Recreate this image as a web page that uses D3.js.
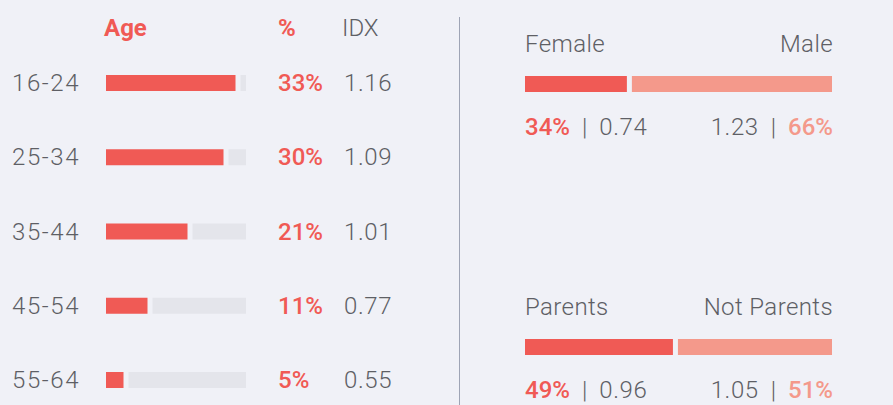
<!DOCTYPE html>
<html lang="en">
<head>
<meta charset="UTF-8">
<title>Audience</title>
<script src="https://d3js.org/d3.v7.min.js"></script>
<style>
	body {margin: 0; background: #f0f1f7;}
	text {font-family: "Roboto", sans-serif;}
</style>
</head>
<body>
<div id="myDiv"></div>
<script>
// data
const ages = ["16-24", "25-34", "35-44", "45-54", "55-64"];
const agePct = [33, 30, 21, 11, 5];
const ageIdx = [1.16, 1.09, 1.01, 0.77, 0.55];

const genderLabels = ["Female", "Male"];
const genderPct = [34, 66];
const genderIdx = [0.74, 1.23];

const parentLabels = ["Parents", "Not Parents"];
const parentPct = [49, 51];
const parentIdx = [0.96, 1.05];

const red = "#f05a55", salmon = "#f4998b", grey = "#5e5f65", track = "#e4e5eb";
const fs = 24;

let svg = d3.select("#myDiv").append("svg")
	.attr("width", 893)
	.attr("height", 405);

svg.append("rect").attr("width", 893).attr("height", 405).attr("fill", "#f0f1f7");

//---- Age block
let y = d3.scalePoint().domain(ages).range([91, 388]);   // text baselines
let x = d3.scaleLinear().domain([0, 35]).range([106, 246]);
const barH = 16, gap = 2.5;

let ageData = ages.map((a, i) => ({age: a, pct: agePct[i], idx: ageIdx[i]}));

// headers
svg.append("text").attr("x", 104).attr("y", 36).attr("font-size", fs).attr("font-weight", 700)
	.attr("fill", red).text("Age");
svg.append("text").attr("x", 278).attr("y", 36).attr("font-size", fs).attr("font-weight", 700)
	.attr("fill", red).text("%");
svg.append("text").attr("x", 342).attr("y", 36).attr("font-size", fs).attr("font-weight", 300)
	.attr("fill", grey).text("IDX");

let rows = svg.selectAll("g.row").data(ageData).enter().append("g").attr("class", "row");

rows.append("text")
	.attr("x", 12).attr("y", d => y(d.age))
	.attr("font-size", fs).attr("font-weight", 300).attr("fill", grey)
	.attr("letter-spacing", 1.6)
	.text(d => d.age);

// background track
rows.append("rect")
	.attr("x", d => x(d.pct) + gap)
	.attr("y", d => y(d.age) - barH)
	.attr("width", d => x.range()[1] - x(d.pct) - gap)
	.attr("height", barH)
	.attr("fill", track);

// value bar
rows.append("rect")
	.attr("x", x(0))
	.attr("y", d => y(d.age) - barH)
	.attr("width", d => x(d.pct) - gap - x(0))
	.attr("height", barH)
	.attr("fill", red);

rows.append("text")
	.attr("x", 278).attr("y", d => y(d.age))
	.attr("font-size", fs).attr("font-weight", 500).attr("fill", red)
	.text(d => d.pct + "%");

rows.append("text")
	.attr("x", 344).attr("y", d => y(d.age))
	.attr("font-size", fs).attr("font-weight", 300).attr("fill", grey)
	.attr("letter-spacing", 0.6)
	.text(d => d.idx.toFixed(2));

//---- divider
svg.append("line")
	.attr("x1", 459.5).attr("x2", 459.5)
	.attr("y1", 17).attr("y2", 405)
	.attr("stroke", "#9ea4b5").attr("stroke-width", 1);

//---- split bars
let sx = d3.scaleLinear().domain([0, 100]).range([525, 832]);

function splitBlock(top, labels, pct, idx) {
	let g = svg.append("g");
	// labels
	g.append("text").attr("x", sx(0)).attr("y", top)
		.attr("font-size", fs).attr("font-weight", 300).attr("fill", grey)
		.attr("letter-spacing", 0.4).text(labels[0]);
	g.append("text").attr("x", sx(100) + 1).attr("y", top).attr("text-anchor", "end")
		.attr("font-size", fs).attr("font-weight", 300).attr("fill", grey)
		.attr("letter-spacing", 0.4).text(labels[1]);

	// bars
	g.append("rect")
		.attr("x", sx(0)).attr("y", top + 24)
		.attr("width", sx(pct[0]) - gap - sx(0)).attr("height", barH)
		.attr("fill", red);
	g.append("rect")
		.attr("x", sx(pct[0]) + gap).attr("y", top + 24)
		.attr("width", sx(100) - sx(pct[0]) - gap).attr("height", barH)
		.attr("fill", salmon);

	// values
	let l = g.append("text").attr("x", sx(0)).attr("y", top + 83)
		.attr("font-size", fs).attr("font-weight", 300).attr("fill", grey);
	l.append("tspan").attr("fill", red).attr("font-weight", 500).text(pct[0] + "%");
	l.append("tspan").attr("dx", 12).text("|");
	l.append("tspan").attr("dx", 12).attr("letter-spacing", 0.6).text(idx[0].toFixed(2));

	let r = g.append("text").attr("x", sx(100) + 1).attr("y", top + 83).attr("text-anchor", "end")
		.attr("font-size", fs).attr("font-weight", 300).attr("fill", grey);
	r.append("tspan").attr("letter-spacing", 0.6).text(idx[1].toFixed(2));
	r.append("tspan").attr("dx", 12).text("|");
	r.append("tspan").attr("dx", 12).attr("fill", salmon).attr("font-weight", 500).text(pct[1] + "%");
}

splitBlock(52, genderLabels, genderPct, genderIdx);
splitBlock(315, parentLabels, parentPct, parentIdx);
</script>
</body>
</html>
